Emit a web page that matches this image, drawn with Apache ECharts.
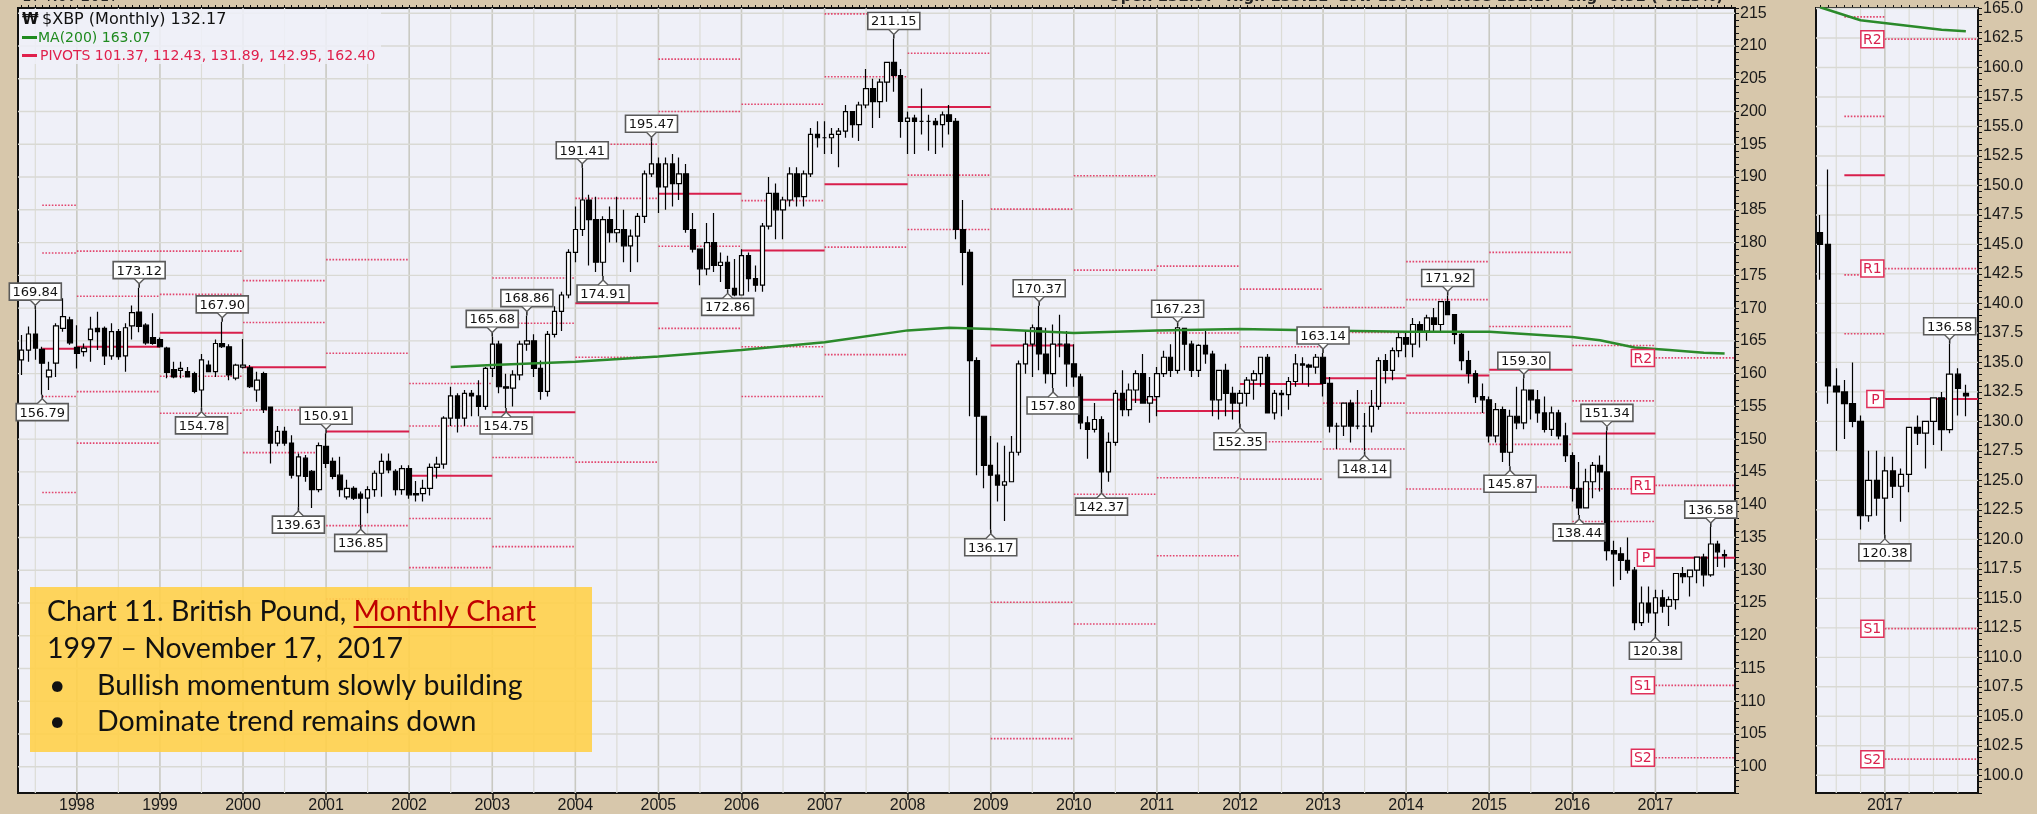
<!DOCTYPE html>
<html><head><meta charset="utf-8">
<script src="https://cdn.jsdelivr.net/npm/echarts@6/dist/echarts.min.js"></script>
<style>html,body{margin:0;padding:0;background:#d7c7ab;}#c{width:2037px;height:814px;}</style>
</head><body><div id="c"></div>
<script>
// ---------- DATA (monthly, May 1997 .. Nov 2017) ----------
const open = [
162.1,163.6,166.05,163.7,159.5,161.6,166.9,168.2,
164.0,163.35,165.2,166.9,166.9,162.7,166.4,162.7,167.3,169.4,167.4,165.5,
165.2,163.9,160.6,160.5,160.3,160.0,157.5,161.3,160.3,164.6,164.1,159.3,
161.0,160.9,157.5,160.0,154.9,149.4,151.2,149.4,144.4,147.1,145.1,142.3,
148.9,146.6,144.5,141.2,142.5,141.6,141.0,142.3,144.8,146.6,145.1,142.3,
145.5,141.5,141.7,142.5,145.7,146.2,153.2,156.6,153.2,157.0,156.6,155.0,
160.8,164.5,158.0,157.8,159.8,164.5,165.0,160.8,157.3,166.0,169.5,172.0,
178.5,182.0,186.5,183.5,177.0,183.5,181.5,182.0,179.5,181.0,184.0,190.5,
192.0,188.5,192.0,189.0,190.5,182.0,179.0,176.0,180.0,176.5,177.0,173.0,
172.0,178.0,174.5,173.5,182.5,187.5,185.0,186.5,190.5,187.0,190.5,196.5,
196.0,196.0,196.5,197.0,200.0,198.0,201.0,203.5,201.5,204.5,207.5,205.5,
198.5,199.0,198.5,198.5,198.5,198.0,199.5,198.5,182.0,178.5,162.0,153.5,
146.0,144.5,143.0,143.5,148.0,161.5,164.5,167.0,163.0,160.0,164.5,164.5,
161.5,159.5,152.5,151.5,153.0,145.0,149.5,157.0,154.5,157.5,160.0,155.5,
156.5,160.0,162.5,160.5,166.9,164.5,160.5,164.3,163.0,156.0,160.5,157.0,
155.5,157.0,159.0,160.0,162.5,154.0,157.0,156.8,158.8,161.5,161.3,161.0,
162.5,158.5,152.0,152.0,155.5,152.0,152.0,152.0,155.0,162.0,160.5,163.5,
165.5,164.5,167.5,166.5,168.5,167.5,171.0,169.0,166.0,162.0,160.0,156.5,
156.0,150.5,154.5,148.0,153.5,152.5,157.5,156.0,154.0,151.5,154.0,150.5,
147.5,142.5,139.5,143.5,146.0,145.0,133.0,132.5,131.5,130.0,122.0,125.0,
123.5,125.8,124.5,125.5,129.5,129.0,130.0,132.0,129.3,134.0,132.37];
const high = [
165.9,167.2,169.84,164.1,161.8,167.7,171.5,168.7,
167.4,164.6,168.7,169.45,167.2,167.7,166.8,167.7,170.4,173.12,167.7,169.2,
165.5,164.1,161.8,161.8,161.0,160.3,163.0,162.0,165.2,167.90,164.5,161.5,
165.3,161.3,160.3,160.3,155.0,152.0,151.9,150.6,147.8,147.6,145.3,149.5,
150.91,147.2,147.3,143.8,142.8,142.0,142.8,145.2,147.8,147.8,145.4,146.0,
146.0,143.6,143.8,146.3,147.3,153.5,158.0,157.0,157.5,157.5,159.0,161.0,
165.68,165.0,160.0,160.5,165.0,168.86,166.0,162.0,166.5,170.3,172.5,179.0,
185.5,191.41,187.3,187.0,184.0,185.5,187.0,185.0,182.0,184.5,191.0,195.47,
193.0,193.0,193.5,193.0,192.0,184.5,179.0,183.0,184.5,178.5,178.0,177.5,
179.0,178.5,176.5,183.0,190.0,189.0,187.0,191.5,191.5,191.0,197.5,198.5,
198.5,197.5,197.5,201.0,200.0,201.5,206.5,205.0,205.0,207.5,211.15,206.5,
200.0,199.5,203.5,199.5,199.0,200.0,201.0,199.0,186.5,179.0,162.5,153.5,
150.5,149.5,149.0,150.5,162.0,166.5,167.5,170.37,167.0,167.5,169.0,166.5,
164.5,160.0,153.5,155.5,153.5,151.0,157.5,160.5,158.5,160.5,163.0,159.5,
161.0,163.5,164.5,167.23,167.0,165.0,164.5,166.5,163.5,160.5,161.5,158.0,
157.5,159.5,160.5,162.5,163.0,157.5,157.5,159.5,163.0,162.5,161.5,163.0,
163.14,159.5,152.5,155.5,156.0,157.5,154.0,157.5,162.5,163.0,164.0,166.5,
166.5,168.5,168.0,169.0,170.0,171.0,171.92,169.0,166.5,163.5,160.5,158.5,
156.5,155.5,155.0,154.5,158.0,159.30,157.5,157.5,156.5,155.0,154.5,152.5,
148.0,146.5,145.5,146.5,147.5,151.34,134.5,133.5,135.0,130.5,127.5,127.5,
127.0,127.0,126.0,129.5,130.5,130.0,132.0,132.5,136.58,134.5,133.11];
const low = [
159.8,161.8,162.1,156.79,157.5,159.5,166.4,164.4,
160.8,162.6,161.8,163.6,161.3,162.1,162.1,160.3,165.2,166.3,164.4,164.4,
164.0,159.3,159.3,159.3,159.5,157.0,154.78,160.3,159.5,163.9,159.0,159.0,
160.8,157.8,155.7,154.0,146.3,148.9,149.0,144.0,139.63,143.5,139.5,141.9,
145.6,143.9,141.2,140.8,140.7,136.85,138.7,141.2,141.2,144.8,141.4,141.5,
140.9,140.5,140.5,141.4,144.0,145.5,152.0,151.0,152.0,153.5,153.5,154.5,
159.5,157.0,154.75,155.0,159.0,163.5,159.5,156.0,156.5,165.5,166.5,171.5,
177.0,181.0,176.5,175.5,174.91,180.0,180.0,177.0,175.5,177.0,183.0,190.0,
184.5,185.0,185.5,186.5,181.5,178.5,173.5,175.0,175.5,174.0,172.86,171.8,
172.0,172.5,172.5,172.5,182.0,180.5,180.5,185.5,185.5,185.5,190.0,194.5,
193.5,193.5,191.5,196.0,196.0,195.5,200.5,197.5,199.0,201.5,203.0,196.0,
193.5,193.5,196.5,194.0,193.5,194.5,196.5,180.5,173.5,153.5,144.5,142.5,
136.17,140.5,137.5,143.5,147.5,160.0,159.5,160.5,158.5,157.80,162.5,158.0,
158.0,151.5,147.0,151.0,142.37,143.5,149.0,153.5,153.5,155.5,155.5,152.5,
153.5,159.5,159.5,160.0,160.5,159.5,159.5,161.5,153.5,153.0,153.5,153.0,
152.35,155.0,156.0,158.0,154.0,153.0,153.5,154.5,158.0,158.5,158.0,160.0,
156.5,151.0,148.5,150.5,149.5,151.5,148.14,151.0,154.5,158.5,159.0,162.5,
162.5,162.5,164.0,165.0,166.5,166.5,169.0,164.5,160.5,158.5,155.5,154.0,
149.5,149.5,146.5,145.87,151.5,151.5,153.0,152.5,151.0,150.5,150.0,146.5,
140.5,138.44,139.5,141.0,142.0,131.5,127.5,128.5,129.5,120.83,121.5,122.0,
120.38,123.5,121.5,124.0,128.0,126.0,128.0,127.5,129.0,130.5,130.43];
const close = [
163.6,166.05,163.9,161.6,160.55,167.3,168.7,164.7,
163.1,163.9,166.8,166.4,162.7,166.4,162.6,167.0,169.3,167.2,164.7,164.6,
164.1,160.2,159.5,160.8,159.5,157.3,162.1,160.3,164.6,164.1,159.8,161.3,
161.3,158.0,159.0,154.5,149.4,151.2,149.4,144.5,147.3,144.3,142.3,149.0,
146.3,144.3,142.3,142.5,141.0,141.0,142.3,144.8,146.6,145.3,142.3,145.5,
141.5,141.7,142.5,145.7,146.2,153.2,156.6,153.2,157.0,156.6,155.0,160.8,
164.5,158.0,157.8,159.8,164.5,165.0,160.8,157.3,166.0,169.5,172.0,178.5,
182.0,186.5,183.5,177.0,183.5,181.5,182.0,179.5,181.0,184.0,190.5,192.0,
188.5,192.0,189.0,190.5,182.0,179.0,176.0,180.0,176.5,177.0,173.0,172.0,
178.0,174.5,173.5,182.5,187.5,185.0,186.5,190.5,187.0,190.5,196.5,196.0,
196.0,196.5,197.0,200.0,198.0,201.0,203.5,201.5,204.5,207.5,205.5,198.5,
199.0,198.5,198.5,198.5,198.0,199.5,198.5,182.0,178.5,162.0,153.5,146.0,
144.5,143.0,143.5,148.0,161.5,164.5,167.0,163.0,160.0,164.5,164.5,161.5,
159.5,152.5,151.5,153.0,145.0,149.5,157.0,154.5,157.5,160.0,155.5,156.5,
160.0,162.5,160.5,167.0,164.5,160.5,164.3,163.0,156.0,160.5,157.0,155.5,
157.0,159.0,160.0,162.5,154.0,157.0,156.8,158.8,161.5,161.3,161.0,162.5,
158.5,152.0,152.0,155.5,152.0,152.0,152.0,155.0,162.0,160.5,163.5,165.5,
164.5,167.5,166.5,168.5,167.5,171.0,169.0,166.0,162.0,160.0,156.5,156.0,
150.5,154.5,148.0,153.5,152.5,157.5,156.0,154.0,151.5,154.0,150.5,147.5,
142.5,139.5,143.5,146.0,145.0,133.0,132.5,131.5,130.0,122.0,125.0,123.5,
125.8,124.5,125.5,129.5,129.0,130.0,132.0,129.3,134.0,132.8,132.17];

// MA(200) readings
const maMonths = ['2002-07','2003-01','2004-01','2005-01','2006-01','2007-01','2008-01','2008-07','2009-01','2010-01','2011-01','2012-01','2013-01','2014-01','2015-01','2016-01','2016-05','2016-10','2017-03','2017-08','2017-11'];
const maValues = [161.0,161.3,161.8,162.6,163.6,164.8,166.6,167.0,166.8,166.2,166.6,166.8,166.6,166.4,166.4,165.6,165.1,164.0,163.6,163.2,163.07];

// Yearly pivot levels
const pivotYears = [1997,1998,1999,2000,2001,2002,2003,2004,2005,2006,2007,2008,2009,2010,2011,2012,2013,2014,2015,2016,2017];
const pivotS2 = [141.85,149.4,153.95,147.95,125.6,130.4,133.6,146.5,166.9,156.5,162.9,182.0,104.3,121.8,132.2,143.9,148.5,142.4,142.7,137.43,101.37];
const pivotS1 = [156.5,157.25,159.6,154.45,136.8,137.9,147.2,162.5,179.45,164.1,179.3,190.3,125.1,141.6,144.1,149.6,155.5,154.0,149.2,142.42,112.43];
const pivotP  = [163.8,164.1,166.25,160.96,151.15,144.4,154.1,170.75,187.46,178.8,188.9,200.7,164.3,156.0,154.3,158.4,159.3,159.7,160.6,150.86,131.89];
const pivotR1 = [178.4,171.8,172.1,167.8,163.1,152.0,167.7,186.75,200.0,186.4,205.3,208.9,185.1,175.8,166.2,164.1,166.3,171.3,167.2,155.85,142.95];
const pivotR2 = [185.7,178.7,178.7,174.2,177.4,158.5,174.6,195.0,208.0,201.1,214.9,219.4,224.3,190.2,176.4,172.9,170.1,177.1,178.5,164.29,162.40];

// Swing high / low labels
const labelMonths = ['1997-07','1997-08','1998-10','1999-07','1999-10','2000-09','2001-01','2001-06','2003-01','2003-03','2003-06','2004-02','2004-05','2004-12','2005-11','2007-11','2009-01','2009-08','2009-10','2010-05','2011-04','2012-01','2013-01','2013-07','2014-07','2015-04','2015-06','2016-02','2016-06','2017-01','2017-09'];
const labelValues = [169.84,156.79,173.12,154.78,167.90,139.63,150.91,136.85,165.68,154.75,168.86,191.41,174.91,195.47,172.86,211.15,136.17,170.37,157.80,142.37,167.23,152.35,163.14,148.14,171.92,145.87,159.30,138.44,151.34,120.38,136.58];
const labelSides  = [1,-1,1,-1,1,-1,1,-1,1,-1,1,1,-1,1,-1,1,-1,1,-1,-1,1,-1,1,-1,1,-1,1,-1,1,-1,1];
const zoomLabelMonths = ['2017-01','2017-09'];

const pivotNames = ['S2','S1','P','R1','R2'];

// ---------- build ----------
const months = [];
for (let y = 1997, mo = 5; y < 2018; ) { months.push(y + '-' + String(mo).padStart(2, '0')); mo++; if (mo > 12) { mo = 1; y++; } }
const candle = open.map((o, i) => [o, close[i], low[i], high[i]]);
const zoomStart = months.indexOf('2016-05');
const monthsR = months.slice(zoomStart);
const candleR = candle.slice(zoomStart);

const maMain = months.map(() => null);
maMonths.forEach((m, i) => { maMain[months.indexOf(m)] = maValues[i]; });
const maR = maMain.slice(zoomStart);

const levelArrays = [pivotS2, pivotS1, pivotP, pivotR1, pivotR2];
const segMain = [], segR = [];
pivotYears.forEach((yr, k) => {
  const jan = months.indexOf(yr + '-01');
  const start = jan < 0 ? 3 : jan;
  const nextJan = months.indexOf((yr + 1) + '-01');
  const end = (yr === 2017) ? -1 : nextJan;
  levelArrays.forEach((arr, t) => {
    segMain.push([start, end, arr[k], t === 2 ? 1 : 0]);
    if (yr >= 2016) {
      const s = yr === 2016 ? 3 : start - zoomStart;
      const e = yr === 2016 ? nextJan - zoomStart : -1;
      segR.push([s, e, arr[k], t === 2 ? 1 : 0]);
    }
  });
});
const kLast = pivotYears.length - 1;
const janLast = months.indexOf('2017-01');
const letterMain = levelArrays.map((arr, t) => [janLast, arr[kLast], t]);
const letterR = levelArrays.map((arr, t) => [janLast - zoomStart, arr[kLast], t]);

const lblMain = labelMonths.map((m, i) => [months.indexOf(m), labelValues[i], labelSides[i]]);
const lblR = labelMonths.map((m, i) => zoomLabelMonths.includes(m) ? [months.indexOf(m) - zoomStart, labelValues[i], labelSides[i]] : null).filter(d => d);

const vMain = [], vR = [];
months.forEach((m, i) => { const mm = m.slice(5); if (mm === '01' || mm === '07') vMain.push([i, mm === '01' ? 1 : 0]); });
monthsR.forEach((m, i) => { const mm = m.slice(5); if (['01','04','07','10'].includes(mm)) vR.push([i, mm === '01' ? 1 : 0]); });
const hMain = [], hR = [];
for (let v = 100; v <= 215; v += 5) hMain.push([0, v]);
for (let v = 100; v <= 165; v += 2.5) hR.push([0, v]);

// ---------- renderers ----------
function vgrid(params, api) {
  const cs = params.coordSys; const x = api.coord([api.value(0), 150])[0];
  return { type: 'line', silent: true, shape: { x1: x, y1: cs.y, x2: x, y2: cs.y + cs.height },
    style: { stroke: api.value(1) ? '#c9c9c2' : '#dcdcd6', lineWidth: api.value(1) ? 1.6 : 1.2 } };
}
function hgrid(params, api) {
  const cs = params.coordSys; const y = api.coord([0, api.value(1)])[1];
  return { type: 'line', silent: true, shape: { x1: cs.x, y1: y, x2: cs.x + cs.width, y2: y },
    style: { stroke: '#d9d9d4', lineWidth: 1.4 } };
}
function seg(params, api) {
  const cs = params.coordSys; const v = api.value(2);
  const p1 = api.coord([api.value(0), v]);
  if (p1[1] < cs.y || p1[1] > cs.y + cs.height) return;
  const e = api.value(1);
  const x2 = e < 0 ? cs.x + cs.width : api.coord([e, v])[0];
  const solid = api.value(3) === 1;
  return { type: 'line', silent: true, shape: { x1: p1[0], y1: p1[1], x2: x2, y2: p1[1] },
    style: solid ? { stroke: '#d81f4c', lineWidth: 2 } : { stroke: '#e2456d', lineWidth: 1.6, lineDash: [1.6, 1.6] } };
}
function letter(params, api) {
  const p = api.coord([api.value(0), api.value(1)]);
  const name = pivotNames[api.value(2)];
  const w = name.length > 1 ? 23 : 17, h = 17;
  return { type: 'group', children: [
    { type: 'rect', shape: { x: p[0] - w - 1, y: p[1] - h / 2, width: w, height: h }, style: { fill: '#fff', stroke: '#e0305a', lineWidth: 1.5 } },
    { type: 'text', style: { text: name, x: p[0] - 1 - w / 2, y: p[1] + 1, align: 'center', verticalAlign: 'middle', fontFamily: 'DejaVu Sans', fontSize: 14, fill: '#d81f4c' } }
  ] };
}
function priceLabel(params, api) {
  const v = api.value(1), side = api.value(2);
  const p = api.coord([api.value(0), v]);
  const txt = v.toFixed(2);
  const w = 52, h = 17, gap = 4, tri = 5;
  let by, tipY, baseY;
  if (side > 0) { by = p[1] - gap - tri - h; baseY = by + h; tipY = by + h + tri; }
  else { by = p[1] + gap + tri; baseY = by; tipY = by - tri; }
  return { type: 'group', children: [
    { type: 'line', shape: { x1: p[0], y1: p[1], x2: p[0], y2: tipY }, style: { stroke: '#222', lineWidth: 1.5 } },
    { type: 'rect', shape: { x: p[0] - w / 2, y: by, width: w, height: h }, style: { fill: '#fff', stroke: '#5a5a5a', lineWidth: 1.6 } },
    { type: 'polygon', shape: { points: [[p[0] - 5, baseY], [p[0] + 5, baseY], [p[0], tipY]] }, style: { fill: '#fff', stroke: null } },
    { type: 'polyline', shape: { points: [[p[0] - 5, baseY], [p[0], tipY], [p[0] + 5, baseY]] }, style: { stroke: '#5a5a5a', lineWidth: 1.4, fill: null } },
    { type: 'text', style: { text: txt, x: p[0], y: by + h / 2 + 1, align: 'center', verticalAlign: 'middle', fontFamily: 'DejaVu Sans', fontSize: 13, fill: '#111' } }
  ] };
}

const axisFont = { fontFamily: 'Liberation Sans', fontSize: 16, color: '#1a1a1a' };
const isJan = (i, v) => v.slice(5) === '01';
const candleStyle = { color: '#ffffff', color0: '#000000', borderColor: '#000000', borderColor0: '#000000', borderWidth: 1.2 };

const option = {
  animation: false,
  backgroundColor: '#d7c7ab',
  grid: [
    { left: 18, top: 8, width: 1717, height: 785, show: true, backgroundColor: '#eff0f8', borderColor: '#111', borderWidth: 2 },
    { left: 1816, top: 8, width: 162, height: 785, show: true, backgroundColor: '#eff0f8', borderColor: '#111', borderWidth: 2 }
  ],
  xAxis: [
    { type: 'category', gridIndex: 0, data: months, boundaryGap: true,
      axisLine: { show: true, lineStyle: { color: '#111', width: 2 } },
      axisTick: { show: true, alignWithLabel: true, interval: isJan, length: 7, lineStyle: { color: '#111', width: 1.5 } },
      axisLabel: Object.assign({ show: true, interval: isJan, formatter: v => v.slice(0, 4), margin: 5 }, axisFont),
      splitLine: { show: false } },
    { type: 'category', gridIndex: 0, data: months, boundaryGap: true,
      axisLine: { show: false }, axisLabel: { show: false }, splitLine: { show: false },
      axisTick: { show: true, alignWithLabel: true, interval: 0, length: 3, lineStyle: { color: '#111' } } },
    { type: 'category', gridIndex: 1, data: monthsR, boundaryGap: true,
      axisLine: { show: true, lineStyle: { color: '#111', width: 2 } },
      axisTick: { show: true, alignWithLabel: true, interval: isJan, length: 7, lineStyle: { color: '#111', width: 1.5 } },
      axisLabel: Object.assign({ show: true, interval: isJan, formatter: v => v.slice(0, 4), margin: 5 }, axisFont),
      splitLine: { show: false } },
    { type: 'category', gridIndex: 1, data: monthsR, boundaryGap: true,
      axisLine: { show: false }, axisLabel: { show: false }, splitLine: { show: false },
      axisTick: { show: true, alignWithLabel: true, interval: 0, length: 3, lineStyle: { color: '#111' } } }
  ],
  yAxis: [
    { type: 'value', gridIndex: 0, position: 'right', min: 96, max: 215.8, interval: 1,
      axisLine: { show: true, lineStyle: { color: '#111', width: 2 } },
      axisTick: { show: true, length: 4, lineStyle: { color: '#111' } },
      axisLabel: Object.assign({ margin: 5, formatter: v => (Math.abs(v % 5) < 1e-6 ? String(v) : '') }, axisFont),
      splitLine: { show: false } },
    { type: 'value', gridIndex: 1, position: 'right', min: 98.5, max: 165.04, interval: 0.5,
      axisLine: { show: true, lineStyle: { color: '#111', width: 2 } },
      axisTick: { show: true, length: 4, lineStyle: { color: '#111' } },
      axisLabel: Object.assign({ margin: 5, formatter: v => (Math.abs(v / 2.5 - Math.round(v / 2.5)) < 1e-6 ? v.toFixed(1) : '') }, axisFont),
      splitLine: { show: false } }
  ],
  series: [
    { type: 'custom', xAxisIndex: 0, yAxisIndex: 0, z: 1, silent: true, renderItem: vgrid, data: vMain, encode: { x: 0 } },
    { type: 'custom', xAxisIndex: 0, yAxisIndex: 0, z: 1, silent: true, renderItem: hgrid, data: hMain, encode: { y: 1 } },
    { type: 'custom', xAxisIndex: 2, yAxisIndex: 1, z: 1, silent: true, renderItem: vgrid, data: vR, encode: { x: 0 } },
    { type: 'custom', xAxisIndex: 2, yAxisIndex: 1, z: 1, silent: true, renderItem: hgrid, data: hR, encode: { y: 1 } },
    { type: 'custom', xAxisIndex: 0, yAxisIndex: 0, z: 2, silent: true, renderItem: seg, data: segMain, encode: { x: 0, y: 2 } },
    { type: 'custom', xAxisIndex: 2, yAxisIndex: 1, z: 2, silent: true, renderItem: seg, data: segR, encode: { x: 0, y: 2 } },
    { type: 'candlestick', xAxisIndex: 0, yAxisIndex: 0, z: 3, data: candle, barWidth: 5, itemStyle: candleStyle },
    { type: 'candlestick', xAxisIndex: 2, yAxisIndex: 1, z: 3, data: candleR, barWidth: 6, itemStyle: candleStyle },
    { type: 'line', xAxisIndex: 0, yAxisIndex: 0, z: 4, data: maMain, connectNulls: true, showSymbol: false, lineStyle: { color: '#2b8a2b', width: 2.5 } },
    { type: 'line', xAxisIndex: 2, yAxisIndex: 1, z: 4, data: maR, connectNulls: true, showSymbol: false, lineStyle: { color: '#2b8a2b', width: 2.5 } },
    { type: 'custom', xAxisIndex: 0, yAxisIndex: 0, z: 5, silent: true, renderItem: letter, data: letterMain, encode: { x: 0, y: 1 } },
    { type: 'custom', xAxisIndex: 2, yAxisIndex: 1, z: 5, silent: true, renderItem: letter, data: letterR, encode: { x: 0, y: 1 } },
    { type: 'custom', xAxisIndex: 0, yAxisIndex: 0, z: 6, silent: true, clip: false, renderItem: priceLabel, data: lblMain, encode: { x: 0, y: 1 } },
    { type: 'custom', xAxisIndex: 2, yAxisIndex: 1, z: 6, silent: true, clip: false, renderItem: priceLabel, data: lblR, encode: { x: 0, y: 1 } }
  ]
};

// text box
const cv = document.createElement('canvas').getContext('2d');
const boxFont = '28.5px Lato';
cv.font = boxFont;
const part1 = 'Chart 11. British Pound, ';
const w1 = cv.measureText(part1).width;
const w2 = cv.measureText('Monthly Chart').width;
const tx = 47;
const mid = { verticalAlign: 'middle' };

option.graphic = [
  { type: 'text', z: 20, x: 22, y: -3, style: { text: '17-Nov-2017', font: '15px "DejaVu Sans"', fill: '#222', verticalAlign: 'middle' } },
  { type: 'text', z: 20, x: 1108, y: -3, style: { text: 'Open 132.37  High 133.11  Low 130.43  Close 132.17  Chg -0.31 (-0.23%)', font: 'bold 15px "DejaVu Sans"', fill: '#222', verticalAlign: 'middle' } },
  { type: 'rect', z: 20, shape: { x: 19, y: 9, width: 362, height: 55 }, style: { fill: '#eff0f8', opacity: 0.85 } },
  { type: 'text', z: 21, x: 22, y: 20, style: { text: '₩', font: 'bold 15px "DejaVu Sans"', fill: '#111', verticalAlign: 'middle' } },
  { type: 'text', z: 21, x: 42, y: 20, style: { text: '$XBP (Monthly) 132.17', font: '16px "DejaVu Sans"', fill: '#111', verticalAlign: 'middle' } },
  { type: 'rect', z: 21, shape: { x: 22, y: 36, width: 15, height: 3 }, style: { fill: '#1f8a1f' } },
  { type: 'text', z: 21, x: 38, y: 38, style: { text: 'MA(200) 163.07', font: '14px "DejaVu Sans"', fill: '#1f8a1f', verticalAlign: 'middle' } },
  { type: 'rect', z: 21, shape: { x: 22, y: 54, width: 15, height: 3 }, style: { fill: '#e0204c' } },
  { type: 'text', z: 21, x: 40, y: 56, style: { text: 'PIVOTS 101.37, 112.43, 131.89, 142.95, 162.40', font: '14px "DejaVu Sans"', fill: '#e0204c', verticalAlign: 'middle' } },
  { type: 'rect', z: 30, shape: { x: 30, y: 587, width: 562, height: 165 }, style: { fill: '#ffd04a', opacity: 0.9 } },
  { type: 'text', z: 31, x: tx, y: 612, style: Object.assign({ text: part1, font: boxFont, fill: '#111' }, mid) },
  { type: 'text', z: 31, x: tx + w1, y: 612, style: Object.assign({ text: 'Monthly Chart', font: boxFont, fill: '#c00000' }, mid) },
  { type: 'rect', z: 31, shape: { x: tx + w1, y: 626, width: w2, height: 2 }, style: { fill: '#c00000' } },
  { type: 'text', z: 31, x: tx, y: 649, style: Object.assign({ text: '1997 – November 17,  2017', font: boxFont, fill: '#111' }, mid) },
  { type: 'text', z: 31, x: tx + 2, y: 686, style: Object.assign({ text: '•', font: boxFont, fill: '#111' }, mid) },
  { type: 'text', z: 31, x: 97, y: 686, style: Object.assign({ text: 'Bullish momentum slowly building', font: boxFont, fill: '#111' }, mid) },
  { type: 'text', z: 31, x: tx + 2, y: 722, style: Object.assign({ text: '•', font: boxFont, fill: '#111' }, mid) },
  { type: 'text', z: 31, x: 97, y: 722, style: Object.assign({ text: 'Dominate trend remains down', font: boxFont, fill: '#111' }, mid) }
];

const chart = echarts.init(document.getElementById('c'), null, { renderer: 'canvas' });
chart.setOption(option);
</script>
</body></html>
